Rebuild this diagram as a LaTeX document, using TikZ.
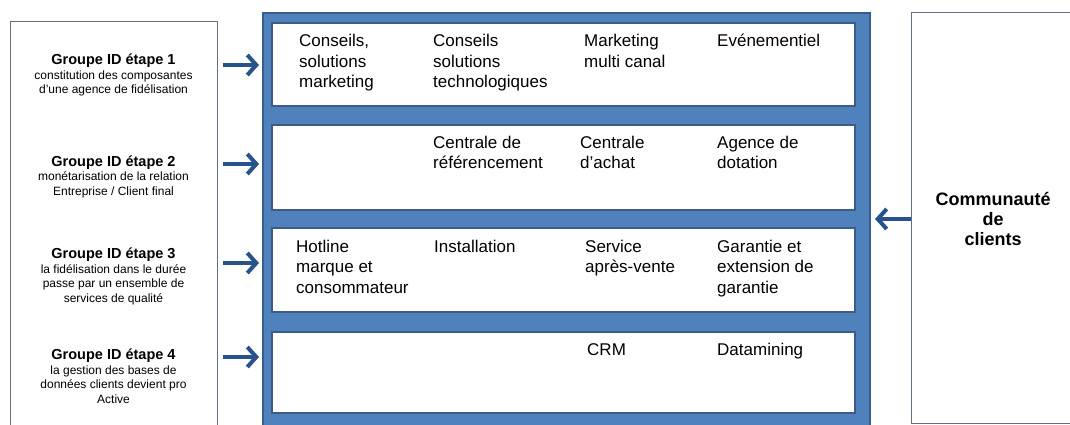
\documentclass[tikz,border=0pt]{standalone}
\usepackage{fontspec}
\setmainfont{Liberation Sans}
\usetikzlibrary{arrows.meta}
\definecolor{bluefill}{RGB}{79,129,189}
\definecolor{blueedge}{RGB}{56,93,138}
\definecolor{inneredge}{RGB}{60,92,135}
\definecolor{arrowblue}{RGB}{40,82,140}
\definecolor{grayedge}{RGB}{100,112,130}
\tikzset{
  outerbox/.style={draw=grayedge, line width=1pt, fill=white, anchor=north west, inner sep=0pt, outer sep=0pt},
  bluebox/.style={draw=blueedge, line width=1.5pt, fill=bluefill, anchor=north west, inner sep=0pt, outer sep=0pt},
  rowbox/.style={draw=inneredge, line width=1.6pt, fill=white, anchor=north west, inner sep=0pt, outer sep=0pt, minimum width=583pt},
  grouptext/.style={anchor=base, align=center, inner sep=0pt, font=\fontsize{12}{14.5}\selectfont},
  celltext/.style={anchor=base west, align=left, inner sep=0pt, font=\fontsize{17}{20.5}\selectfont},
  commtext/.style={anchor=base, align=center, inner sep=0pt, font=\bfseries\fontsize{18}{20}\selectfont},
  bigarrow/.style={draw=arrowblue, line width=4pt, -{Straight Barb[length=9pt,width=20pt]}}
}
\newcommand{\grtitle}[1]{{\bfseries\fontsize{14.5}{14.5}\selectfont #1}}
\begin{document}
\begin{tikzpicture}[x=1pt,y=-1pt]
\useasboundingbox (0,0) rectangle (1070,425);
% outer frames
\node[outerbox, minimum width=207pt, minimum height=420pt] (left) at (10,22) {};
\node[bluebox, minimum width=607pt, minimum height=430pt] (blue) at (263,13) {};
\node[outerbox, minimum width=170pt, minimum height=410pt] (right) at (911,13) {};
% rows
\node[rowbox, minimum height=83pt] (r1) at (272,23) {};
\node[rowbox, minimum height=85pt] (r2) at (272,125) {};
\node[rowbox, minimum height=84pt] (r3) at (272,228) {};
\node[rowbox, minimum height=81pt] (r4) at (272,332) {};
% left texts (anchored at the baseline of their last line)
\node[grouptext] (g1) at (113.5,94) {\grtitle{Groupe ID étape 1}\\constitution des composantes\\d'une agence de fidélisation};
\node[grouptext] (g2) at (113.5,195) {\grtitle{Groupe ID étape 2}\\monétarisation de la relation\\Entreprise / Client final};
\node[grouptext] (g3) at (113.5,302) {\grtitle{Groupe ID étape 3}\\la fidélisation dans le durée\\passe par un ensemble de\\services de qualité};
\node[grouptext] (g4) at (113.5,403) {\grtitle{Groupe ID étape 4}\\la gestion des bases de\\données clients devient pro\\Active};
% row 1
\node[celltext] (c11) at (299,88) {Conseils,\\solutions\\marketing};
\node[celltext] (c12) at (433,88) {Conseils\\solutions\\technologiques};
\node[celltext] (c13) at (584,67.5) {Marketing\\multi canal};
\node[celltext] (c14) at (717,47) {Evénementiel};
% row 2
\node[celltext] (c22) at (433,168.5) {Centrale de\\référencement};
\node[celltext] (c23) at (580,168.5) {Centrale\\d’achat};
\node[celltext] (c24) at (717,168.5) {Agence de\\dotation};
% row 3
\node[celltext] (c31) at (296,293) {Hotline\\marque et\\consommateur};
\node[celltext] (c32) at (434,252) {Installation};
\node[celltext] (c33) at (585,272.5) {Service\\après-vente};
\node[celltext] (c34) at (717,293) {Garantie et\\extension de\\garantie};
% row 4
\node[celltext] (c43) at (587,355) {CRM};
\node[celltext] (c44) at (717,355) {Datamining};
% community
\node[commtext] (comm) at (993,245) {Communauté\\de\\clients};
% arrows
\coordinate (a1) at (223,65);
\coordinate (a2) at (223,164);
\coordinate (a3) at (223,263);
\coordinate (a4) at (223,357);
\draw[bigarrow] (a1) -- ([xshift=-4pt]blue.west |- a1);
\draw[bigarrow] (a2) -- ([xshift=-4pt]blue.west |- a2);
\draw[bigarrow] (a3) -- ([xshift=-4pt]blue.west |- a3);
\draw[bigarrow] (a4) -- ([xshift=-4pt]blue.west |- a4);
\coordinate (ac) at (911,219);
\draw[bigarrow] (right.west |- ac) -- ([xshift=5pt]blue.east |- ac);
\end{tikzpicture}
\end{document}
